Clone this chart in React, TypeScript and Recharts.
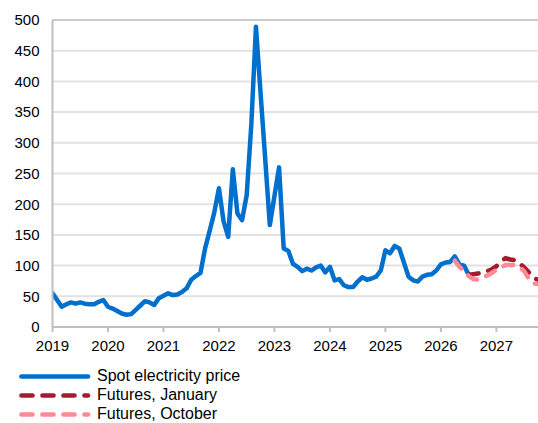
import React from 'react';
import { LineChart, Line, XAxis, YAxis, CartesianGrid, ReferenceLine } from 'recharts';

// Month index 0 = January 2019
const yearLabels = ['2019', '2020', '2021', '2022', '2023', '2024', '2025', '2026', '2027'];
const yearTicks = [0, 12, 24, 36, 48, 60, 72, 84, 96];
const yTicks = [0, 50, 100, 150, 200, 250, 300, 350, 400, 450, 500];

const spotPrice = [
  55, 44, 33, 37, 40, 38, 40, 38, 37, 37, 41, 44,
  33, 30, 26, 22, 20, 21, 28, 35, 42, 40, 36, 47,
  51, 55, 52, 53, 57, 63, 77, 83, 88, 128, 157, 187,
  226, 172, 147, 257, 185, 174, 215, 330, 489, 381, 274, 166,
  213, 260, 128, 124, 103, 98, 91, 95, 92, 97, 100, 89,
  98, 76, 78, 68, 65, 65, 74, 81, 77, 79, 82, 92,
  125, 120, 132, 128, 105, 82, 76, 74, 82, 85, 86, 92,
  102, 105, 106, 115, 102, 100, 85,
];

const futuresJanuaryStart = 90;
const futuresJanuary = [85, 86, 87, 89, 91, 94, 99, 107, 112, 110, 109, 104, 97, 89, 80, 77];

const futuresOctoberStart = 87;
const futuresOctober = [108, 98, 91, 83, 78, 77, 80, 84, 88, 93, 97, 101, 101, 101, 98, 91, 79, 71, 70];

const seriesNames = ['Spot electricity price', 'Futures, January', 'Futures, October'];
const colors = ['#0070CC', '#A6192E', '#FF8A96'];

const lastMonth = 105;

const pick = (arr: number[], start: number, i: number) =>
  i >= start && i - start < arr.length ? arr[i - start] : null;

const data = Array.from({ length: lastMonth + 1 }, (_, i) => ({
  m: i,
  spot: pick(spotPrice, 0, i),
  jan: pick(futuresJanuary, futuresJanuaryStart, i),
  oct: pick(futuresOctober, futuresOctoberStart, i),
}));

const FONT = '"Liberation Sans", Arial, sans-serif';
const AXIS = '#bfbfbf';

export default function App() {
  return (
    <div style={{ position: 'absolute', left: 0, top: 0, width: 538, height: 423, background: '#fff', fontFamily: FONT }}>
      <LineChart
        width={538}
        height={423}
        data={data}
        margin={{ top: 20, right: 0, bottom: 66, left: 0.5 }}
      >
        <CartesianGrid vertical={false} stroke="#e2e2e2" strokeWidth={2} />
        <ReferenceLine y={500} stroke="#cccccc" strokeWidth={2} />
        <XAxis
          type="number"
          dataKey="m"
          domain={[0, lastMonth]}
          ticks={yearTicks}
          allowDataOverflow
          tickFormatter={(v: number) => yearLabels[yearTicks.indexOf(v)]}
          height={30}
          tickSize={5}
          tickMargin={8}
          axisLine={{ stroke: AXIS, strokeWidth: 2 }}
          tickLine={{ stroke: AXIS, strokeWidth: 2 }}
          tick={{ fill: '#000', fontSize: 15, fontFamily: FONT }}
        />
        <YAxis
          domain={[0, 500]}
          ticks={yTicks}
          width={52}
          tickLine={false}
          tickMargin={7}
          axisLine={{ stroke: AXIS, strokeWidth: 2 }}
          tick={{ fill: '#000', fontSize: 15, fontFamily: FONT }}
        />
        <Line
          dataKey="spot"
          stroke={colors[0]}
          strokeWidth={4.5}
          dot={false}
          strokeLinejoin="round"
          strokeLinecap="round"
          isAnimationActive={false}
        />
        <Line
          dataKey="jan"
          stroke={colors[1]}
          strokeWidth={4.5}
          strokeDasharray="10 10"
          strokeLinecap="round"
          dot={false}
          isAnimationActive={false}
        />
        <Line
          dataKey="oct"
          stroke={colors[2]}
          strokeWidth={4.5}
          strokeDasharray="10 10"
          strokeLinecap="round"
          dot={false}
          isAnimationActive={false}
        />
      </LineChart>
      <div style={{ position: 'absolute', left: 0, top: 366.5, width: 300 }}>
        {seriesNames.map((name, k) => (
          <div key={name} style={{ position: 'relative', height: 19, display: 'flex', alignItems: 'center' }}>
            <svg width={92} height={19} style={{ display: 'block' }}>
              <line
                x1={21.5}
                x2={88}
                y1={9.5}
                y2={9.5}
                stroke={colors[k]}
                strokeWidth={4.7}
                strokeLinecap="round"
                strokeDasharray={k === 0 ? undefined : '11 10'}
              />
            </svg>
            <span style={{ marginLeft: 5, fontSize: 16, color: '#000', fontFamily: FONT, whiteSpace: 'nowrap' }}>{name}</span>
          </div>
        ))}
      </div>
    </div>
  );
}
